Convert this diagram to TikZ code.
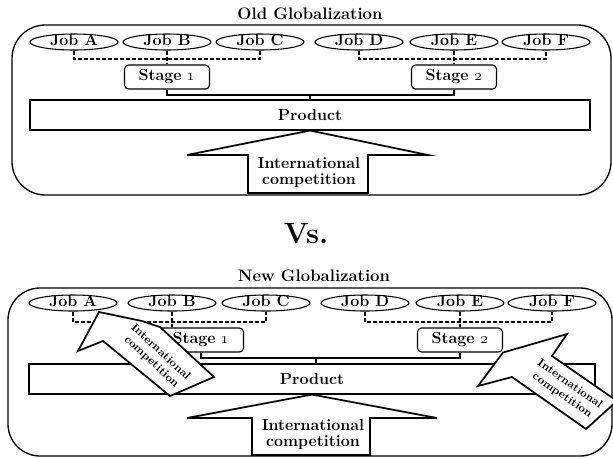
\documentclass[tikz,border=0pt]{standalone}
\usetikzlibrary{shapes.geometric}
\begin{document}
\begin{tikzpicture}[x=0.75pt,y=-0.75pt,
  lab/.style={font=\bfseries\fontsize{12}{14}\selectfont},
  job/.style={ellipse,draw,line width=0.8pt,minimum width=66pt,minimum height=12pt,
    inner sep=0pt,text height=6pt,text depth=1pt,lab},
  stagebox/.style={draw,rounded corners=3pt,line width=0.8pt,minimum width=63.75pt,
    minimum height=18pt,inner sep=0pt,lab},
  prodbox/.style={draw,line width=0.8pt,minimum height=22.5pt,inner sep=0pt,lab},
  dashline/.style={line width=0.8pt,dash pattern=on 3pt off 1.5pt},
  link/.style={line width=0.8pt},
  frame/.style={line width=1pt},
  blockarrow/.style={draw,fill=white,line width=1.3pt,line join=miter},
  arrowtext/.style={font=\bfseries\fontsize{12}{12}\selectfont,align=center,inner sep=0pt},
  tiltedtext/.style={font=\bfseries\fontsize{8.5}{10}\selectfont,align=center,inner sep=0pt},
  title/.style={font=\bfseries\fontsize{12.5}{14}\selectfont}
]
\useasboundingbox (0,0) rectangle (613,458);
\fill[white] (0,0) rectangle (613,458);

% ---------------- Old globalization ----------------
\node[title] (t1) at (310,14) {Old Globalization};
\draw[frame,rounded corners=25pt] (12,25) rectangle (611,195);

\node[job] (oA) at (74,42)  {Job A};
\node[job] (oB) at (167,42) {Job B};
\node[job] (oC) at (260,42) {Job C};
\node[job] (oD) at (359,42) {Job D};
\node[job] (oE) at (454,42) {Job E};
\node[job] (oF) at (546,42) {Job F};

\node[stagebox] (os1) at (167,77) {Stage \oldstylenums{1}};
\node[stagebox] (os2) at (454,77) {Stage \oldstylenums{2}};

\coordinate (odash) at (0,59);
\draw[dashline] (oA.south) -- (oA.south |- odash) -- (oC.south |- odash) -- (oC.south);
\draw[dashline] (oB.south) -- (os1.north);
\draw[dashline] (oD.south) -- (oD.south |- odash) -- (oF.south |- odash) -- (oF.south);
\draw[dashline] (oE.south) -- (os2.north);

\node[prodbox,minimum width=420pt] (op) at (310,115) {Product};
\coordinate (ojoin) at (310,95);
\draw[link] (os1.south) |- (ojoin);
\draw[link] (os2.south) |- (ojoin) -- (ojoin |- op.north);

% upward block arrow under the product
\draw[blockarrow] (op.south) -- (428,155) -- (368,155) -- (368,193) -- (248,193)
  -- (248,155) -- (187,155) -- cycle;
\node[arrowtext] (oic) at (309,172) {International\\competition};

% ---------------- versus ----------------
\node[font=\bfseries\fontsize{22}{26}\selectfont] (vs) at (306,234) {Vs.};

% ---------------- New globalization ----------------
\node[title] (t2) at (314,276) {New Globalization};
\draw[frame,rounded corners=24pt] (8,288) rectangle (612,456);

\node[job] (nA) at (73,303)  {Job A};
\node[job] (nB) at (172,303) {Job B};
\node[job] (nC) at (266,303) {Job C};
\node[job] (nD) at (365,303) {Job D};
\node[job] (nE) at (460,303) {Job E};
\node[job] (nF) at (552,303) {Job F};

\node[stagebox] (ns1) at (201,340) {Stage \oldstylenums{1}};
\node[stagebox] (ns2) at (460,340) {Stage \oldstylenums{2}};

\coordinate (ndash) at (0,322);
\draw[dashline] (nA.south) -- (nA.south |- ndash) -- (nC.south |- ndash) -- (nC.south);
\draw[dashline] (nB.south) -- (nB.south |- ns1.north);
\draw[dashline] (nD.south) -- (nD.south |- ndash) -- (nF.south |- ndash) -- (nF.south);
\draw[dashline] (nE.south) -- (ns2.north);

\node[prodbox,minimum width=424.5pt] (np) at (312,379) {Product};
\coordinate (njoin) at (316,358);
\draw[link] (ns1.south) |- (njoin);
\draw[link] (ns2.south) |- (njoin) -- (njoin |- np.north);

% upward block arrow under the product
\draw[blockarrow] (np.south) -- (437,418) -- (370,418) -- (370,455) -- (252,455)
  -- (252,418) -- (187,418) -- cycle;
\node[arrowtext] (nic) at (313,434) {International\\competition};

% tilted arrow reaching the first jobs
\draw[blockarrow] (99,312) -- (142,321) -- (160,327) -- (214,377) -- (170,396)
  -- (103,341) -- (78,351) -- cycle;
\node[tiltedtext,rotate=-43] (lic) at (156,357) {International\\competition};

% tilted arrow reaching stage 2
\draw[blockarrow] (ns2.south east) -- (567,334) -- (552,356) -- (617,401) -- (586,429)
  -- (512,377) -- (478,386) -- cycle;
\node[tiltedtext,rotate=-35] (ric) at (566,390) {International\\competition};
\end{tikzpicture}
\end{document}
